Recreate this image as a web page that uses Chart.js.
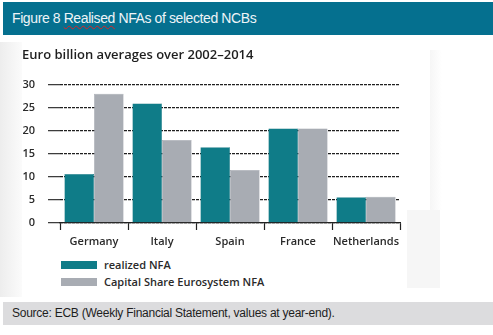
<!DOCTYPE html>
<html>
<head>
<meta charset="utf-8">
<script src="https://cdn.jsdelivr.net/npm/chart.js@4/dist/chart.umd.min.js"></script>
<style>
  body { margin: 0; width: 493px; height: 335px; background: #fff; position: relative; overflow: hidden; }
  .header {
    position: absolute; left: 3px; top: 2px; width: 490px; height: 33px;
    background: #05708f; color: #eef4f8;
    font: 14px "Liberation Sans", Arial, sans-serif; letter-spacing: -0.4px;
    line-height: 33px; padding-left: 9px; box-sizing: border-box;
  }
  .header .spell { text-decoration: underline wavy #d22; text-decoration-thickness: 1px; text-underline-offset: 2px; }
  .shade-left { position: absolute; left: 0; top: 42px; width: 22px; height: 255px; background: linear-gradient(to right, #ededed, #fbfbfb); }
  .shade-right { position: absolute; left: 430px; top: 50px; width: 12px; height: 160px; background: linear-gradient(to right, #f6f6f6, #fff); }
  .shade-low { position: absolute; left: 407px; top: 210px; width: 33px; height: 78px; background: #f6f6f6; }
  .chart-box { position: absolute; left: 0; top: 38px; width: 440px; height: 215px; }
  .legend { position: absolute; left: 61px; top: 256px; font: 600 11px "Open Sans", sans-serif; color: #2a2a2a; }
  .legend div { height: 17px; display: flex; align-items: center; }
  .legend span.sw { display: inline-block; width: 36px; height: 8px; margin-right: 7px; }
  .source {
    position: absolute; left: 3px; top: 302px; width: 490px; height: 23px;
    background: #dcdcde; color: #1e1e1e;
    font: 12px "Liberation Sans", Arial, sans-serif; letter-spacing: -0.25px;
    line-height: 23px; padding-left: 9px; box-sizing: border-box;
  }
</style>
</head>
<body>
<div class="header">Figure 8 <span class="spell">Realised</span> NFAs of selected NCBs</div>
<div class="shade-left"></div>
<div class="shade-right"></div>
<div class="shade-low"></div>
<div class="chart-box"><canvas id="nfaChart"></canvas></div>
<div class="legend" id="legend"></div>
<div class="source">Source: ECB (Weekly Financial Statement, values at year-end).</div>

<script>
// Central banks and their NFA averages (EUR bn)
const countries = ['Germany', 'Italy', 'Spain', 'France', 'Netherlands'];
const realizedNFA = [10.6, 25.9, 16.4, 20.5, 5.6];
const capitalShareNFA = [28.0, 18.0, 11.5, 20.5, 5.7];
const yTicks = [0, 5, 10, 15, 20, 25, 30];

const seriesNames = ['realized NFA', 'Capital Share Eurosystem NFA'];
const seriesColors = ['#0f7c88', '#a8acb3'];

const fontFamily = '"Open Sans", sans-serif';

const ctx = document.getElementById('nfaChart');

const chart = new Chart(ctx, {
  type: 'bar',
  data: {
    labels: countries,
    datasets: [{
      label: seriesNames[0],
      data: realizedNFA,
      backgroundColor: seriesColors[0],
      borderColor: '#0c6f7a',
      borderWidth: 0.5
    }, {
      label: seriesNames[1],
      data: capitalShareNFA,
      backgroundColor: seriesColors[1],
      borderColor: '#9a9ea6',
      borderWidth: 0.5
    }]
  },
  options: {
    responsive: true,
    maintainAspectRatio: false,
    animation: false,
    categoryPercentage: 0.87,
    barPercentage: 1,
    layout: { padding: { left: 22, right: 40, top: 0, bottom: 0 } },
    plugins: {
      legend: { display: false },
      tooltip: { enabled: false },
      title: {
        display: true,
        text: 'Euro billion averages over 2002\u20132014',
        align: 'start',
        color: '#1e1e1e',
        font: { family: fontFamily, size: 13, weight: '600' },
        padding: { top: 9, bottom: 22 }
      }
    },
    scales: {
      x: {
        grid: {
          display: true,
          drawOnChartArea: false,
          drawTicks: true,
          tickLength: 7,
          tickColor: '#222',
          tickWidth: 1.2
        },
        border: { display: true, color: '#222', width: 1.2 },
        ticks: {
          color: '#2a2a2a',
          padding: 5,
          maxRotation: 0,
          autoSkip: false,
          font: { family: fontFamily, size: 11, weight: '600' }
        },
        afterFit: scale => { scale.height = 30; }
      },
      y: {
        min: 0,
        max: 30,
        afterBuildTicks: scale => { scale.ticks = yTicks.map(v => ({ value: v })); },
        grid: {
          color: '#1f1f1f',
          lineWidth: 1.3,
          tickLength: 12,
          tickColor: '#333',
          tickWidth: 1.2
        },
        border: { display: false, dash: [3, 1] },
        ticks: {
          color: '#2a2a2a',
          padding: 13,
          font: { family: fontFamily, size: 11, weight: '600' }
        },
        afterFit: scale => { scale.width = 38; }
      }
    }
  }
});

// Legend rows built from the chart's datasets
const legendEl = document.getElementById('legend');
chart.data.datasets.forEach(ds => {
  const row = document.createElement('div');
  const sw = document.createElement('span');
  sw.className = 'sw';
  sw.style.background = ds.backgroundColor;
  row.appendChild(sw);
  row.appendChild(document.createTextNode(ds.label));
  legendEl.appendChild(row);
});
</script>
</body>
</html>
